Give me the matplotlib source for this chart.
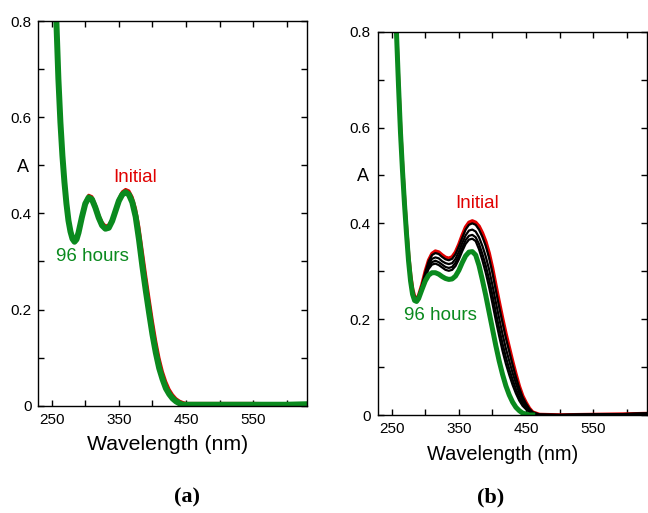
import matplotlib
matplotlib.use("Agg")
import matplotlib.pyplot as plt
import numpy as np

plt.rcParams['font.family'] = ['Liberation Sans', 'DejaVu Sans']

# wavelength grid (nm), shared by all spectra
wavelength = [250, 254, 257, 260, 263, 266, 269, 272, 275, 278, 281, 284, 287, 290,
              295, 300, 305, 310, 315, 320, 325, 330, 335, 340, 345, 350, 355, 360,
              365, 370, 375, 380, 385, 390, 395, 400, 405, 410, 415, 420, 425, 430,
              435, 440, 445, 450, 455, 460, 470, 500, 550, 600, 630]

# ---- panel (a) ----
a_initial = [1.12, 0.94, 0.82, 0.70, 0.607, 0.532, 0.477, 0.43, 0.394, 0.369, 0.353, 0.347, 0.350, 0.363,
             0.395, 0.424, 0.438, 0.435, 0.419, 0.398, 0.382, 0.374, 0.376, 0.389, 0.410, 0.431, 0.445, 0.450,
             0.447, 0.434, 0.410, 0.372, 0.322, 0.272, 0.224, 0.177, 0.135, 0.099, 0.071, 0.050, 0.034, 0.023,
             0.015, 0.010, 0.007, 0.005, 0.005, 0.005, 0.005, 0.005, 0.005, 0.004, 0.004]
a_mid = [1.11, 0.93, 0.81, 0.69, 0.597, 0.525, 0.47, 0.424, 0.388, 0.364, 0.349, 0.343, 0.347, 0.361,
         0.393, 0.421, 0.434, 0.431, 0.414, 0.393, 0.377, 0.370, 0.372, 0.385, 0.406, 0.427, 0.441, 0.446,
         0.442, 0.427, 0.398, 0.352, 0.299, 0.248, 0.201, 0.155, 0.116, 0.083, 0.059, 0.039, 0.026, 0.017,
         0.010, 0.006, 0.003, 0.002, 0.002, 0.002, 0.002, 0.002, 0.002, 0.002, 0.003]
a_96h = [1.10, 0.92, 0.80, 0.68, 0.59, 0.52, 0.465, 0.42, 0.385, 0.362, 0.347, 0.341, 0.346, 0.360,
         0.392, 0.420, 0.433, 0.429, 0.412, 0.391, 0.375, 0.368, 0.370, 0.384, 0.405, 0.426, 0.439, 0.444,
         0.439, 0.423, 0.393, 0.345, 0.290, 0.240, 0.193, 0.148, 0.110, 0.078, 0.055, 0.036, 0.024, 0.015,
         0.009, 0.005, 0.002, 0.002, 0.002, 0.002, 0.002, 0.002, 0.002, 0.002, 0.003]

# ---- panel (b) ----
b_initial = [1.12, 0.93, 0.81, 0.70, 0.60, 0.52, 0.45, 0.39, 0.335, 0.293, 0.263, 0.247, 0.243, 0.249,
             0.272, 0.300, 0.323, 0.337, 0.342, 0.340, 0.334, 0.329, 0.327, 0.330, 0.340, 0.356, 0.375, 0.392,
             0.402, 0.405, 0.402, 0.394, 0.380, 0.362, 0.338, 0.307, 0.271, 0.236, 0.202, 0.170, 0.141, 0.112,
             0.085, 0.060, 0.040, 0.026, 0.014, 0.006, 0.001, 0.0, 0.001, 0.002, 0.003]
b_t1 = [1.118, 0.928, 0.809, 0.699, 0.599, 0.519, 0.449, 0.389, 0.334, 0.292, 0.262, 0.246, 0.243, 0.249,
        0.271, 0.298, 0.321, 0.334, 0.338, 0.336, 0.330, 0.325, 0.323, 0.326, 0.336, 0.352, 0.370, 0.387,
        0.397, 0.400, 0.397, 0.387, 0.372, 0.353, 0.328, 0.297, 0.261, 0.226, 0.193, 0.161, 0.133, 0.105,
        0.079, 0.056, 0.037, 0.024, 0.013, 0.006, 0.001, 0.0, 0.001, 0.002, 0.003]
b_t2 = [1.114, 0.924, 0.807, 0.697, 0.597, 0.517, 0.447, 0.387, 0.331, 0.289, 0.260, 0.245, 0.241, 0.247,
        0.269, 0.294, 0.314, 0.326, 0.329, 0.327, 0.321, 0.317, 0.315, 0.317, 0.326, 0.341, 0.359, 0.375,
        0.385, 0.387, 0.383, 0.371, 0.353, 0.331, 0.304, 0.271, 0.236, 0.202, 0.169, 0.139, 0.113, 0.088,
        0.066, 0.046, 0.030, 0.019, 0.010, 0.004, 0.001, 0.0, 0.001, 0.002, 0.003]
b_t3 = [1.111, 0.921, 0.806, 0.696, 0.596, 0.516, 0.446, 0.385, 0.329, 0.287, 0.258, 0.243, 0.240, 0.246,
        0.267, 0.291, 0.309, 0.319, 0.322, 0.319, 0.314, 0.309, 0.307, 0.309, 0.318, 0.332, 0.349, 0.365,
        0.374, 0.376, 0.371, 0.357, 0.336, 0.312, 0.283, 0.250, 0.214, 0.181, 0.149, 0.121, 0.096, 0.074,
        0.054, 0.037, 0.024, 0.015, 0.008, 0.003, 0.0, 0.0, 0.001, 0.002, 0.003]
b_t4 = [1.108, 0.918, 0.804, 0.694, 0.594, 0.514, 0.444, 0.383, 0.327, 0.285, 0.257, 0.242, 0.240, 0.246,
        0.266, 0.288, 0.305, 0.314, 0.316, 0.313, 0.308, 0.303, 0.301, 0.303, 0.311, 0.325, 0.342, 0.357,
        0.366, 0.368, 0.363, 0.346, 0.323, 0.297, 0.267, 0.233, 0.198, 0.165, 0.134, 0.107, 0.084, 0.063,
        0.045, 0.030, 0.019, 0.012, 0.006, 0.003, 0.0, 0.0, 0.001, 0.002, 0.003]
b_96h = [1.10, 0.91, 0.80, 0.69, 0.59, 0.51, 0.44, 0.378, 0.322, 0.280, 0.252, 0.239, 0.237, 0.243,
         0.262, 0.280, 0.292, 0.297, 0.297, 0.294, 0.289, 0.285, 0.283, 0.284, 0.290, 0.302, 0.318, 0.332,
         0.340, 0.341, 0.334, 0.312, 0.282, 0.250, 0.215, 0.180, 0.145, 0.113, 0.085, 0.061, 0.042, 0.027,
         0.016, 0.009, 0.004, 0.002, 0.0, 0.0, np.nan, np.nan, np.nan, np.nan, np.nan]

RED = '#e00000'
GREEN = '#0a8a1e'

fig = plt.figure(figsize=(6.48, 5.13), dpi=100)
ax_a = fig.add_axes([0.0594, 0.2092, 0.4144, 0.7498])
ax_b = fig.add_axes([0.5829, 0.1910, 0.4151, 0.7472])


def style(ax, xlim):
    ax.set_xlim(*xlim)
    ax.set_ylim(0, 0.8)
    ax.set_xticks([250, 350, 450, 550])
    ax.set_xticks([300, 400, 500, 600], minor=True)
    ax.set_yticks([0, 0.2, 0.4, 0.6, 0.8])
    ax.set_yticklabels(['0', '0.2', '0.4', '0.6', '0.8'])
    ax.set_yticks([0.1, 0.3, 0.5, 0.7], minor=True)
    ax.tick_params(which='both', direction='in', top=True, right=True,
                   length=4.3, width=1.0, labelsize=11, pad=5)
    for s in ax.spines.values():
        s.set_linewidth(1.0)


ax_a.plot(wavelength, a_initial, color=RED, lw=2.0)
ax_a.plot(wavelength, a_mid, color='black', lw=1.4)
ax_a.plot(wavelength, a_96h, color=GREEN, lw=4.3)
style(ax_a, (230.4, 630))
ax_a.text(373.6, 0.475, 'Initial', color=RED, fontsize=13.5, ha='center', va='center')
ax_a.text(310.4, 0.31, '96 hours', color=GREEN, fontsize=13.5, ha='center', va='center')

ax_b.plot(wavelength, b_initial, color=RED, lw=2.6)
for curve in [b_t1, b_t2, b_t3, b_t4]:
    ax_b.plot(wavelength, curve, color='black', lw=1.6)
ax_b.plot(wavelength, b_96h, color=GREEN, lw=3.6)
style(ax_b, (229.1, 629.8))
ax_b.text(376.6, 0.442, 'Initial', color=RED, fontsize=13.5, ha='center', va='center')
ax_b.text(322.4, 0.207, '96 hours', color=GREEN, fontsize=13.5, ha='center', va='center')

# y-axis "A" labels and x-axis titles
fig.text(23 / 648, 1 - 168 / 513, 'A', fontsize=13, ha='center', va='center')
fig.text(363.3 / 648, 1 - 176.7 / 513, 'A', fontsize=13, ha='center', va='center')
fig.text(168 / 648, 1 - 445 / 513, 'Wavelength (nm)', fontsize=15.3, ha='center', va='center')
fig.text(503 / 648, 1 - 455 / 513, 'Wavelength (nm)', fontsize=14.4, ha='center', va='center')

fig.text(186.7 / 648, 1 - 497 / 513, '(a)', fontsize=16, fontweight='bold',
         family='Liberation Serif', ha='center', va='center')
fig.text(491 / 648, 1 - 497 / 513, '(b)', fontsize=16, fontweight='bold',
         family='Liberation Serif', ha='center', va='center')

fig.savefig('out.png', dpi=100)
